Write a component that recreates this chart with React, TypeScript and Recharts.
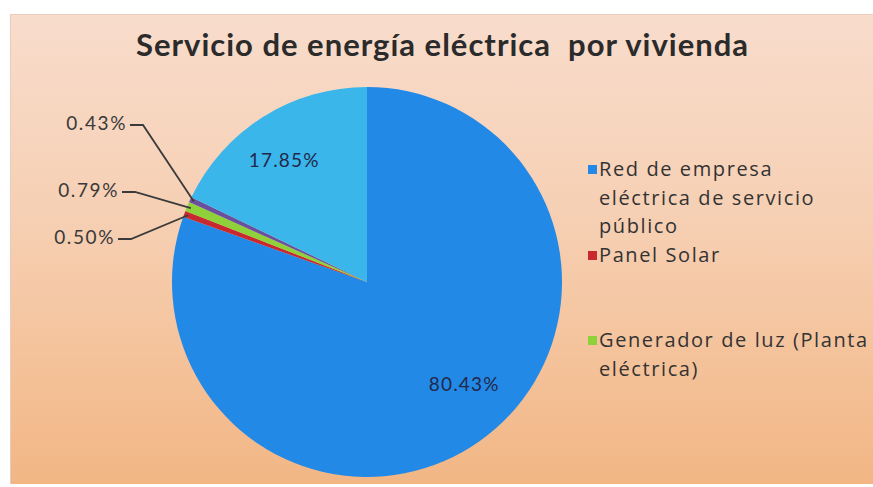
import { PieChart, Pie, Cell, Legend } from 'recharts'

const categories = [
  'Red de empresa eléctrica de servicio público',
  'Panel Solar',
  'Generador de luz (Planta eléctrica)',
  'Otro',
  'No tiene',
]
const values = [80.43, 0.5, 0.79, 0.43, 17.85]
const colors = ['#2389e6', '#c8282e', '#8fd13a', '#6a4fa0', '#3ab6ea']
const legendItems = [
  { lines: ['Red de empresa', 'eléctrica de servicio', 'público'], color: colors[0] },
  { lines: ['Panel Solar'], color: colors[1] },
  { lines: ['Generador de luz (Planta', 'eléctrica)'], color: colors[2] },
]

const data = categories.map((name, i) => ({ name, value: values[i] }))

// placement of the outside labels for the thin slices: [text end dx, dy] from centre
const outsideLabel: Record<number, [number, number]> = {
  1: [-252, -46],
  2: [-248, -93],
  3: [-240, -160],
}
// small nudges for the inside labels
const insideNudge: Record<number, [number, number]> = { 0: [14, -16], 4: [-6, 0] }

const RAD = Math.PI / 180

function renderLabel(props: any) {
  const { cx, cy, midAngle, outerRadius, index, value } = props
  const text = `${value.toFixed(2)}%`
  const pos = outsideLabel[index]
  if (pos) {
    const px = cx + (outerRadius - 4) * Math.cos(-midAngle * RAD)
    const py = cy + (outerRadius - 4) * Math.sin(-midAngle * RAD)
    const tx = cx + pos[0]
    const ly = cy + pos[1]
    const ex = tx + 16
    return (
      <g>
        <path
          d={`M${tx + 3},${ly + 3} L${ex},${ly + 3} L${px},${py}`}
          stroke="#3a3a3a"
          strokeWidth={1.8}
          fill="none"
        />
        <text
          x={tx}
          y={ly}
          textAnchor="end"
          dominantBaseline="central"
          fill="#3a3a3a"
          fontSize={19}
          letterSpacing={1.6}
          fontFamily="Lato, sans-serif"
        >
          {text}
        </text>
      </g>
    )
  }
  const r = outerRadius * 0.74
  const n = insideNudge[index] || [0, 0]
  const x = cx + r * Math.cos(-midAngle * RAD) + n[0]
  const y = cy + r * Math.sin(-midAngle * RAD) + n[1]
  return (
    <text
      x={x}
      y={y}
      textAnchor="middle"
      dominantBaseline="central"
      fill="#22284a"
      fontSize={19}
      letterSpacing={1.2}
      fontFamily="Lato, sans-serif"
    >
      {text}
    </text>
  )
}

function renderLegend() {
  let line = 0
  const gaps = [0, 0, 2]
  const lh = 28.5
  return (
    <div
      style={{
        fontFamily: '"Open Sans", sans-serif',
        fontSize: 20,
        letterSpacing: 1.6,
        color: '#333',
        lineHeight: `${lh}px`,
      }}
    >
      {legendItems.map((it, i) => {
        line += gaps[i]
        const top = line * lh
        line += it.lines.length
        return (
          <div key={i} style={{ position: 'absolute', top, left: 0 }}>
            <span
              style={{
                position: 'absolute',
                left: 0,
                top: 10,
                width: 9,
                height: 9,
                background: it.color,
              }}
            />
            {it.lines.map((l, j) => (
              <div key={j} style={{ paddingLeft: 11, whiteSpace: 'nowrap' }}>
                {l}
              </div>
            ))}
          </div>
        )
      })}
    </div>
  )
}

export default function App() {
  return (
    <div
      style={{
        position: 'fixed',
        left: 10,
        top: 14,
        width: 863,
        height: 470,
        overflow: 'hidden',
        background: 'linear-gradient(180deg, #f8dccc 0%, #f6cfb2 45%, #f2b684 100%)',
        borderTop: '1px solid #e8cdbd',
        borderLeft: '1px solid #e8cdbd',
        boxSizing: 'border-box',
      }}
    >
      <div
        style={{
          position: 'absolute',
          top: 10,
          left: 0,
          width: 863,
          textAlign: 'center',
          fontFamily: 'Lato, sans-serif',
          fontWeight: 700,
          fontSize: 31,
          letterSpacing: 1,
          color: '#2b2b2b',
          whiteSpace: 'pre',
        }}
      >
        {'Servicio de energía eléctrica  por vivienda'}
      </div>
      <PieChart width={863} height={470}>
        <Pie
          data={data}
          dataKey="value"
          nameKey="name"
          cx={351}
          cy={262}
          outerRadius={195}
          startAngle={90}
          endAngle={-270}
          stroke="none"
          label={renderLabel}
          labelLine={false}
          isAnimationActive={false}
        >
          {data.map((d, i) => (
            <Cell key={d.name} fill={colors[i]} />
          ))}
        </Pie>
        <Legend
          content={renderLegend}
          layout="vertical"
          wrapperStyle={{ position: 'absolute', left: 577, top: 140, width: 290, height: 260 }}
        />
      </PieChart>
    </div>
  )
}
